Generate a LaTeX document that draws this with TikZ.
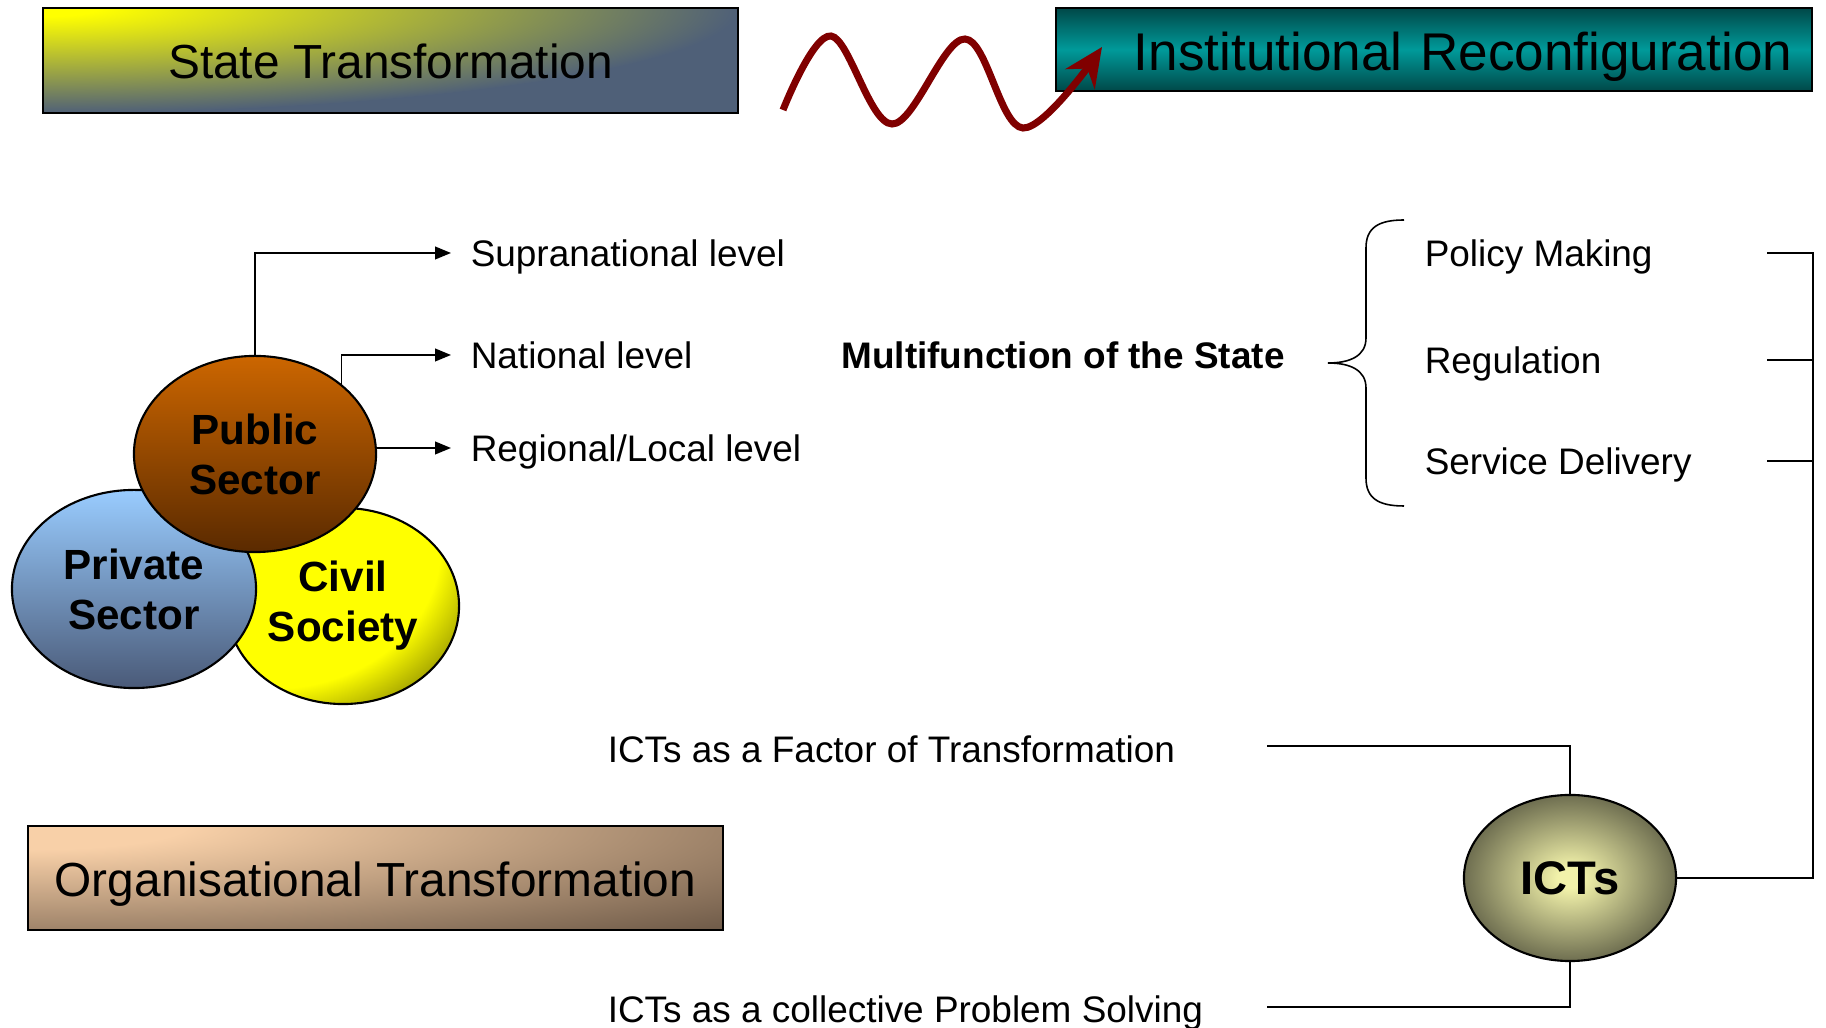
\documentclass[tikz,border=0pt]{standalone}
\usepackage{fontspec}
\setmainfont{Liberation Sans}
\usepackage{tikz}
\usetikzlibrary{arrows.meta,
shapes.geometric,
calc
}
\tikzset{>={Triangle[length=4.5pt,width=3.6pt]}}

\definecolor{stslate}{HTML}{4F6078}
\definecolor{orgpeach}{HTML}{F8D0A8}
\definecolor{orgbrown}{HTML}{6E5A48}
\definecolor{instdark}{HTML}{004848}
\definecolor{instlight}{HTML}{009A9A}
\definecolor{pubtop}{HTML}{CC6600}
\definecolor{pubbot}{HTML}{5A2A00}
\definecolor{privtop}{HTML}{99CCFF}
\definecolor{privbot}{HTML}{4A5A78}
\definecolor{civdark}{HTML}{A0A000}
\definecolor{ictin}{HTML}{F2F2AA}
\definecolor{ictout}{HTML}{6E6E50}
\definecolor{wavered}{HTML}{800000}

\pgfdeclareradialshading{stfade}{\pgfpoint{0bp}{0bp}}{color(0bp)=(yellow); color(2bp)=(yellow); color(25bp)=(stslate); color(50bp)=(stslate)}
\pgfdeclareradialshading{orgfade}{\pgfpoint{0bp}{0bp}}{color(0bp)=(orgpeach); color(4bp)=(orgpeach); color(25bp)=(orgbrown); color(50bp)=(orgbrown)}
\pgfdeclareradialshading{civfade}{\pgfpoint{0bp}{0bp}}{color(0bp)=(yellow); color(19bp)=(yellow); color(25bp)=(civdark); color(50bp)=(civdark)}
\pgfdeclareradialshading{ictfade}{\pgfpoint{0bp}{0bp}}{color(0bp)=(ictin); color(3bp)=(ictin); color(25bp)=(ictout); color(50bp)=(ictout)}

\tikzset{
title/.style={draw, line width=0.6pt, inner sep=0pt, text height=10.4pt, text depth=0pt, font=\fontsize{13.6}{16}\selectfont},
sector/.style={ellipse, draw, line width=0.6pt, inner sep=0pt, align=center, font=\bfseries\fontsize{12}{14.2}\selectfont},
lvl/.style={anchor=west, inner xsep=0.19cm, inner ysep=0pt, text depth=0pt, font=\fontsize{10.5}{12.6}\selectfont},
func/.style={anchor=west, inner sep=0pt, text depth=0pt, font=\fontsize{10.5}{12.6}\selectfont},
wave/.style={draw=wavered, line width=2pt, -{Stealth[length=11pt,width=10pt]}}
}

\begin{document}
\begin{tikzpicture}[x=0.01cm, y=-0.01cm, line width=0.45pt]
\useasboundingbox (0,0) rectangle (1826,1028);

\node[sector, fill=civdark, path picture={\shade[shading=civfade] ($(path picture bounding box.center)+(-0.7cm,0.59cm)$) ellipse [x radius=2.2cm, y radius=1.86cm];}, minimum width=2.32cm, minimum height=1.96cm] (civ) at (343,606) {Civil\\Society};
\node[sector, top color=privtop, bottom color=privbot, minimum width=2.44cm, minimum height=1.98cm] (priv) at (134,589) {Private\\Sector};
\node[sector, top color=pubtop, bottom color=pubbot, minimum width=2.42cm, minimum height=1.96cm] (pub) at (255,454) {Public\\Sector};

\node[title, fill=stslate, path picture={\shade[shading=stfade] (path picture bounding box.north west) ellipse [x radius=6.95cm, y radius=1.05cm];}, minimum width=6.95cm, minimum height=1.05cm] (st) at (390.5,60.5) {State Transformation};
\node[title, top color=instdark, bottom color=instdark, middle color=instlight, minimum height=0.83cm, text width=7.16cm, inner xsep=0.2cm, align=right, text height=12.2pt, font=\fontsize{15.1}{18}\selectfont] (inst) at (1434,49.5) {Institutional Reconfiguration};
\node[title, fill=orgbrown, path picture={\shade[shading=orgfade] (path picture bounding box.north west) ellipse [x radius=9.83cm, y radius=1.47cm];}, minimum width=6.95cm, minimum height=1.04cm] (org) at (375.5,878) {Organisational Transformation};

\draw[wave] plot[smooth, tension=0.6] coordinates {(783,110) (831,36) (892,124) (965,39) (1023,128) (1102,47)};

\node[lvl] (supra) at (451,253) {Supranational level};
\node[lvl] (nat) at (451,355) {National level};
\node[lvl] (reg) at (451,448) {Regional/Local level};
\draw[->] (pub.north) |- (supra.west);
\draw[->] (pub.39) |- (nat.west);
\draw[->] (pub.east |- reg.west) -- (reg.west);

\node[font=\bfseries\fontsize{10.5}{12.6}\selectfont] (multi) at (1063,355) {Multifunction of the State};
\draw (1404,220) .. controls (1378,220) and (1366,228) .. (1366,248) -- (1366,338)
  .. controls (1366,356) and (1350,363) .. (1328,363)
  .. controls (1350,363) and (1366,370) .. (1366,388) -- (1366,478)
  .. controls (1366,498) and (1378,506) .. (1404,506);

\node[func] (pol) at (1424,253) {Policy Making};
\node[func] (regu) at (1424,360) {Regulation};
\node[func] (serv) at (1424,461) {Service Delivery};

\node[sector, shade, shading=ictfade, minimum width=2.12cm, minimum height=1.66cm, font=\bfseries\fontsize{13.4}{16}\selectfont] (icts) at (1570,878) {ICTs};

\coordinate (bl) at (1767,254);
\coordinate (br) at (1813,254);
\draw (pol -| bl) -- (pol -| br) -- (serv -| br);
\draw (regu -| bl) -- (regu -| br);
\draw (serv -| bl) -- (serv -| br);
\draw[line width=0.8pt] (serv -| br) |- (icts.east);

\node[func] (fac) at (607,749) {ICTs as a Factor of Transformation};
\node[func] (prob) at (607,1009) {ICTs as a collective Problem Solving};
\coordinate (facend) at (1267,746);
\coordinate (probend) at (1267,1007);
\draw (icts.north) |- (facend);
\draw (icts.south) |- (probend);
\end{tikzpicture}
\end{document}
